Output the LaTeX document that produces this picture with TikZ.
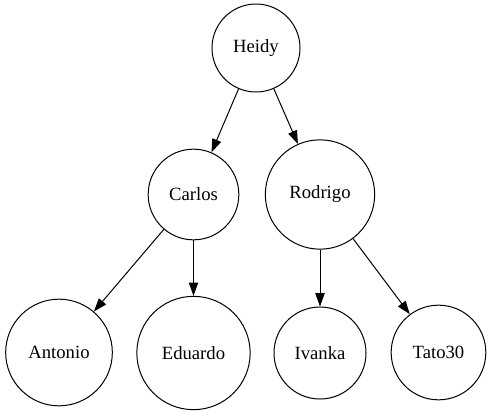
\documentclass[tikz,border=0pt]{standalone}
\usepackage{fontspec}
\setmainfont{Liberation Serif}
\usetikzlibrary{arrows.meta}
\tikzset{
  person/.style={draw, circle, line width=0.75pt, inner sep=0pt, font=\fontsize{14}{16}\selectfont},
  link/.style={-{Triangle[length=10pt,width=7pt]}, line width=0.75pt}
}
\begin{document}
\begin{tikzpicture}[x=0.75pt,y=-0.75pt]
    \useasboundingbox (0,0) rectangle (493,415);
    % top
    \node[person, minimum size=66pt] (heidy) at (256,48) {Heidy};
    % middle row
    \node[person, minimum size=68pt] (carlos) at (193.5,194.5) {Carlos};
    \node[person, minimum size=82pt] (rodrigo) at (320,194.5) {Rodrigo};
    % bottom row
    \node[person, minimum size=80pt] (antonio) at (59,352.5) {Antonio};
    \node[person, minimum size=85pt] (eduardo) at (193.5,353) {Eduardo};
    \node[person, minimum size=69pt] (ivanka) at (320,353) {Ivanka};
    \node[person, minimum size=71pt] (tato) at (438.5,352.5) {Tato30};
    \draw[link] (heidy) -- (carlos);
    \draw[link] (heidy) -- (rodrigo);
    \draw[link] (carlos) -- (antonio);
    \draw[link] (carlos) -- (eduardo);
    \draw[link] (rodrigo) -- (ivanka);
    \draw[link] (rodrigo) -- (tato);
\end{tikzpicture}
\end{document}
